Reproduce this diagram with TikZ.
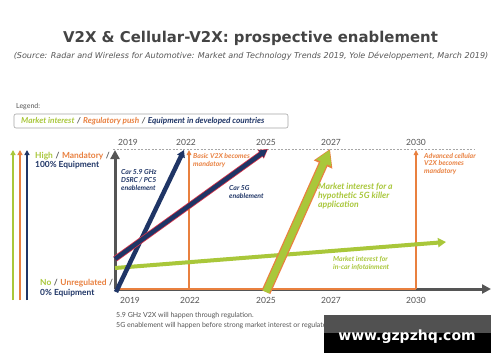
\documentclass[tikz,border=0pt]{standalone}
\usepackage{fontspec}
\setmainfont{Lato}
\newfontfamily\titlefont{DejaVu Sans}
\usetikzlibrary{arrows.meta}
\definecolor{cgreen}{HTML}{A9C73A}
\definecolor{corange}{HTML}{E9803F}
\definecolor{cnavy}{HTML}{1F3566}
\definecolor{cgray}{HTML}{555555}
\definecolor{ctext}{HTML}{444444}
\definecolor{cred}{HTML}{D8344A}
\newcommand{\myslash}{\hspace{2.6pt}\textcolor{cgray}{/}\hspace{2.6pt}}
\tikzset{
  lbl/.style={inner sep=0pt, anchor=west, font=\fontsize{6.9}{7.9}\selectfont\bfseries\itshape, align=left},
  yr/.style={inner sep=0pt, font=\fontsize{8.5}{10}\selectfont, text=cgray},
  side/.style={line width=2pt, -{Triangle[length=5pt,width=5pt]}},
  axis/.style={line width=3pt, cgray, -{Triangle[length=9pt,width=9pt]}},
  reg/.style={line width=1.2pt, corange, -{Triangle[length=5pt,width=4.5pt]}},
}
\begin{document}
\begin{tikzpicture}[x=1pt,y=-1pt]
\useasboundingbox (0,0) rectangle (500,362);
\fill[white] (0,0) rectangle (500,362);

% title
\node[inner sep=0pt, text=ctext, font=\titlefont\fontsize{14.9}{17}\selectfont\bfseries] (title) at (250.5,38) {V2X \& Cellular-V2X: prospective enablement};
\node[inner sep=0pt, text=cgray, font=\titlefont\fontsize{8.05}{9}\selectfont\itshape] (sub) at (251,56) {(Source: Radar and Wireless for Automotive: Market and Technology Trends 2019, Yole Développement, March 2019)};

% legend
\node[inner sep=0pt, anchor=west, text=cgray, font=\fontsize{7}{8}\selectfont] (legtitle) at (16,107) {Legend:};
\draw[rounded corners=2pt, draw=gray!70, line width=0.6pt] (14,114) rectangle (288,128);
\node[lbl, font=\fontsize{8.2}{9}\selectfont\bfseries\itshape] (legtext) at (21,121) {\textcolor{cgreen}{Market interest}\myslash\textcolor{corange}{Regulatory push}\myslash\textcolor{cnavy}{Equipment in developed countries}};

% coordinates
\coordinate (O) at (115,289);
\coordinate (Ytop) at (115,150);
\coordinate (Xend) at (491,289);
\coordinate (R22b) at (189,289);
\coordinate (R22t) at (189,150);
\coordinate (R30b) at (416,289);
\coordinate (R30t) at (416,150);
\coordinate (Dash0) at (113,149);
\coordinate (Dash1) at (474,149);

% dashed top line
\draw[gray!70, line width=0.5pt, dash pattern=on 2pt off 1.5pt] (Dash0) -- (Dash1);

% top years
\node[yr] (t2019) at (128,142.5) {2019};
\node[yr] (t2022) at (186,142.5) {2022};
\node[yr] (t2025) at (266,142.5) {2025};
\node[yr] (t2027) at (331,142.5) {2027};
\node[yr] (t2030) at (416,142.5) {2030};

% bottom years
\node[yr] (b2019) at (130,300) {2019};
\node[yr] (b2022) at (190,300) {2022};
\node[yr] (b2025) at (266,300) {2025};
\node[yr] (b2027) at (331,300) {2027};
\node[yr] (b2030) at (416,300) {2030};

% side arrows
\coordinate (sgb) at (13,300); \coordinate (sgt) at (13,150);
\coordinate (sob) at (20,300); \coordinate (sot) at (20,150);
\coordinate (snb) at (27,300); \coordinate (snt) at (27,150);
\draw[side, cgreen] (sgb) -- (sgt);
\draw[side, corange] (sob) -- (sot);
\draw[side, cnavy] (snb) -- (snt);

\node[lbl, font=\fontsize{8.4}{9.3}\selectfont\bfseries] (high) at (35,160.5) {\textcolor{cgreen}{High}\myslash\textcolor{corange}{Mandatory}\myslash\\\textcolor{cnavy}{100\% Equipment}};
\node[lbl, font=\fontsize{8.4}{9.3}\selectfont\bfseries] (low) at (40,288) {\textcolor{cgreen}{No}\myslash\textcolor{corange}{Unregulated}\myslash\\\textcolor{cnavy}{0\% Equipment}};

% axes
\draw[axis] (O) -- (Ytop);
\draw[axis] (O) -- (Xend);

% regulatory frame
\draw[corange, line width=1.6pt] (O) -- (R30b);
\draw[reg] (R22b) -- (R22t);
\draw[reg] (R30b) -- (R30t);

% infotainment line
\coordinate (infA) at (115,268);
\coordinate (infB) at (446,242);
\draw[cgreen, line width=4pt, -{Triangle[length=8pt,width=9pt]}] (infA) -- (infB);

% 5G killer arrow
\coordinate (kA) at (266,292);
\coordinate (kB) at (330,149);
\draw[corange, line width=9.5pt, -{Triangle[length=17pt,width=19pt]}] (kA) -- (kB);
\draw[cgreen, line width=7pt, shorten >=1.2pt, -{Triangle[length=14pt,width=15.5pt]}] (kA) -- (kB);

% DSRC arrow
\coordinate (dA) at (116,292);
\coordinate (dB) at (184,150);
\draw[cnavy, line width=4.5pt, -{Triangle[length=7pt,width=8pt]}] (dA) -- (dB);

% Car 5G arrow
\coordinate (gA) at (115,259);
\coordinate (gB) at (268,149);
\draw[cred, line width=6pt, -{Triangle[length=9pt,width=10pt]}] (gA) -- (gB);
\draw[cnavy, line width=4.4pt, shorten >=1pt, -{Triangle[length=7.5pt,width=8pt]}] (gA) -- (gB);

% labels
\node[lbl, text=cnavy] (dsrc) at (121,180) {Car 5.9 GHz\\DSRC / PC5\\enablement};
\node[lbl, text=corange] (basic) at (193,160.5) {Basic V2X becomes\\mandatory};
\node[lbl, text=cnavy] (c5g) at (229,192) {Car 5G\\enablement};
\node[lbl, text=cgreen, font=\fontsize{8.6}{9.3}\selectfont\bfseries\itshape] (killer) at (318,196) {Market interest for a\\hypothetic 5G killer\\application};
\node[lbl, text=corange] (adv) at (424,164) {Advanced cellular\\V2X becomes\\mandatory};
\node[lbl, text=cgreen] (info) at (333,263) {Market interest for\\in-car infotainment};

% notes
\node[inner sep=0pt, anchor=west, text=cgray, font=\fontsize{7}{9.3}\selectfont, align=left] (notes) at (116,320.5) {5.9 GHz V2X will happen through regulation.\\5G enablement will happen before strong market interest or regulatory push.};

% watermark
\fill[black] (324,315) rectangle (491,353);
\fill[black!60, opacity=0.8] (324,315) rectangle (491,333);
\node[inner sep=0pt, text=white, font=\titlefont\fontsize{14}{16}\selectfont\bfseries] (wm) at (407,337) {www.gzpzhq.com};
\end{tikzpicture}
\end{document}
